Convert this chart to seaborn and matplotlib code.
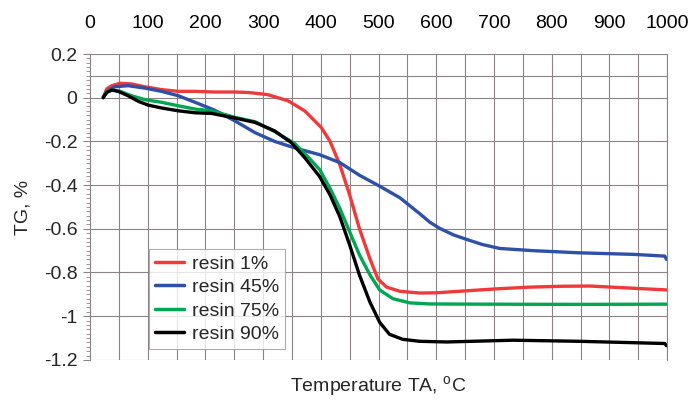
import numpy as np, pandas as pd
import matplotlib
matplotlib.use("Agg")
import matplotlib.pyplot as plt
from matplotlib.ticker import MultipleLocator
import seaborn as sns

# ── data ───────────────────────────────────────────────────────
t_r1 = [23, 29, 38, 52, 72, 95, 124, 153, 182, 216, 250, 274, 308, 343, 372, 401,
        416, 433, 450, 467, 485, 499, 514, 537, 571, 600, 646, 704, 762, 820, 866,
        941, 1000]
tg_r1 = [0.0, 0.04, 0.055, 0.066, 0.063, 0.05, 0.037, 0.029, 0.029, 0.026, 0.026,
         0.024, 0.014, -0.014, -0.06, -0.137, -0.2, -0.307, -0.445, -0.60, -0.737,
         -0.83, -0.867, -0.886, -0.894, -0.893, -0.885, -0.875, -0.867, -0.863,
         -0.862, -0.872, -0.88]

t_r45 = [23, 32, 43, 66, 95, 124, 153, 182, 216, 251, 286, 320, 355, 398, 433,
         467, 502, 537, 571, 589, 606, 630, 652, 680, 710, 767, 848, 941, 996, 999]
tg_r45 = [0.005, 0.032, 0.05, 0.055, 0.044, 0.029, 0.009, -0.021, -0.057, -0.106,
          -0.16, -0.2, -0.23, -0.261, -0.297, -0.355, -0.405, -0.458, -0.53, -0.57,
          -0.598, -0.628, -0.648, -0.672, -0.69, -0.70, -0.71, -0.717, -0.725, -0.74]

t_r75 = [27, 38, 52, 72, 95, 124, 153, 182, 211, 251, 286, 320, 355, 381, 398,
         416, 433, 450, 467, 485, 502, 525, 554, 589, 675, 848, 999]
tg_r75 = [0.025, 0.035, 0.029, 0.009, -0.009, -0.021, -0.037, -0.052, -0.06, -0.09,
          -0.11, -0.155, -0.21, -0.28, -0.329, -0.415, -0.507, -0.614, -0.72, -0.81,
          -0.88, -0.92, -0.939, -0.944, -0.945, -0.946, -0.945]

t_r90 = [23, 29, 38, 49, 66, 84, 101, 124, 153, 182, 211, 251, 286, 320, 349, 372,
         398, 416, 433, 450, 467, 485, 502, 519, 542, 571, 618, 733, 848, 996, 999]
tg_r90 = [0.0, 0.024, 0.035, 0.029, 0.009, -0.017, -0.034, -0.047, -0.06, -0.069,
          -0.072, -0.093, -0.113, -0.152, -0.206, -0.274, -0.361, -0.445, -0.545,
          -0.674, -0.812, -0.935, -1.028, -1.083, -1.106, -1.115, -1.118, -1.11,
          -1.115, -1.125, -1.135]

labels = ["resin 1%", "resin 45%", "resin 75%", "resin 90%"]
palette = {"resin 1%": "#ee3a3a", "resin 45%": "#2f50a8",
           "resin 75%": "#00a651", "resin 90%": "#000000"}

frames = []
for lab, t, tg in zip(labels, [t_r1, t_r45, t_r75, t_r90],
                      [tg_r1, tg_r45, tg_r75, tg_r90]):
    frames.append(pd.DataFrame({"T": t, "TG": tg, "sample": lab}))
df = pd.concat(frames, ignore_index=True)

# ── figure ────────────────────────────────────────────────────
sns.set_theme(style="white")
plt.rcParams["font.family"] = ["Liberation Sans", "DejaVu Sans"]
plt.rcParams["axes.unicode_minus"] = False

fig = plt.figure(figsize=(6.92, 4.03), dpi=100)
ax = fig.add_axes([0.130, 0.107, 0.834, 0.759])

grid_c = "#8c8484"
for xv in np.arange(50, 1001, 50):
    ax.axvline(xv, color=grid_c, lw=0.8, zorder=0)
for yv in np.arange(-1.2, 0.21, 0.2):
    ax.axhline(yv, color=grid_c, lw=0.8, zorder=0)
ax.axhline(0.1, color=grid_c, lw=0.8, zorder=0)

sns.lineplot(data=df, x="T", y="TG", hue="sample", palette=palette,
             sort=False, estimator=None, lw=2.4, ax=ax, legend=False)

ax.set_xlim(0, 1000)
ax.set_ylim(-1.2, 0.2)
ax.xaxis.set_major_locator(MultipleLocator(100))
ax.yaxis.set_major_locator(MultipleLocator(0.2))
ax.yaxis.set_minor_locator(MultipleLocator(0.02))
ax.xaxis.tick_top()
ax.set_xticklabels([f"{int(v)}" for v in ax.get_xticks()])
ax.set_yticklabels(["0" if abs(v) < 1e-9 else f"{v:g}" for v in ax.get_yticks()])
ax.tick_params(axis="x", length=0, pad=16, labelsize=14, colors="black")
ax.tick_params(axis="y", which="major", direction="out", length=5, width=0.8,
               color=grid_c, pad=4, labelsize=14, left=True)
ax.tick_params(axis="y", which="minor", direction="out", length=3, width=0.6,
               color=grid_c, left=True)

for s in ax.spines.values():
    s.set_visible(False)
for side in ["left", "right"]:
    ax.spines[side].set_visible(True)
    ax.spines[side].set_color(grid_c)
    ax.spines[side].set_linewidth(0.8)

ax.set_xlabel("")
fig.text(0.547, 0.04, "Temperature TA, $^\\mathregular{o}$C", fontsize=14,
         ha="center", va="center")
ax.set_ylabel("TG, %", fontsize=14, labelpad=9)

handles = [plt.Line2D([], [], color=palette[l], lw=2.5) for l in labels]
leg = ax.legend(handles, labels, loc="lower left", bbox_to_anchor=(0.102, 0.036),
                borderaxespad=0, fontsize=14, frameon=True, fancybox=False,
                handlelength=1.5, handletextpad=0.4, labelspacing=0.3,
                borderpad=0.3)
leg.get_frame().set_edgecolor("#999999")
leg.get_frame().set_linewidth(0.8)

plt.savefig("out.png", dpi=100)
plt.close()
